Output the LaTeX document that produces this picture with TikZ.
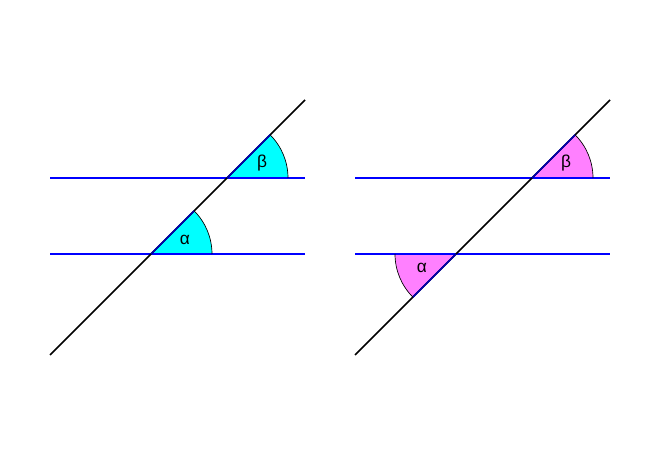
\documentclass[tikz,border=0pt]{standalone}
\usepackage{fontspec}
\setmainfont{Liberation Sans}
\usetikzlibrary{positioning}
\definecolor{angcyan}{RGB}{0,255,255}
\definecolor{angpink}{RGB}{255,128,255}
\tikzstyle{par_l} = [draw=blue, line width=1.2pt]
\tikzstyle{trans_l} = [draw=black, line width=1.2pt]
\tikzstyle{ang_arc} = [draw=black, line width=0.5pt]
\tikzstyle{ang_rad} = [draw=blue!70!black, line width=1.2pt]
\tikzstyle{ang_lbl} = [font=\fontsize{13}{15}\selectfont, inner sep=0pt]

\begin{document}
\begin{tikzpicture}[x=0.75pt,y=0.75pt]
\useasboundingbox (0,0) rectangle (660,457);
% left panel
\coordinate (l_a) at (151,203);
\coordinate (l_b) at (227,279);
\fill[angcyan] (l_a) -- ++(61,0) arc (0:45:61) -- cycle;
\fill[angcyan] (l_b) -- ++(61,0) arc (0:45:61) -- cycle;
\draw[par_l] (50,279) coordinate (l_1w) -- (305,279) coordinate (l_1e);
\draw[par_l] (50,203) coordinate (l_2w) -- (305,203) coordinate (l_2e);
\draw[trans_l] (50,102) coordinate (l_s) -- (305,357) coordinate (l_n);
\draw[ang_rad] (l_a) -- ++(45:61);
\draw[ang_rad] (l_b) -- ++(45:61);
\draw[ang_arc] (l_a) ++(61,0) arc (0:45:61);
\draw[ang_arc] (l_b) ++(61,0) arc (0:45:61);
\node[ang_lbl] (l_alpha) at (185,217) {α};
\node[ang_lbl] (l_beta) at (262,294) {β};
% right panel
\coordinate (r_a) at (456,203);
\coordinate (r_b) at (532,279);
\fill[angpink] (r_a) -- ++(-61,0) arc (180:225:61) -- cycle;
\fill[angpink] (r_b) -- ++(61,0) arc (0:45:61) -- cycle;
\draw[par_l] (355,279) coordinate (r_1w) -- (610,279) coordinate (r_1e);
\draw[par_l] (355,203) coordinate (r_2w) -- (610,203) coordinate (r_2e);
\draw[trans_l] (355,102) coordinate (r_s) -- (610,357) coordinate (r_n);
\draw[ang_rad] (r_a) -- ++(225:61);
\draw[ang_rad] (r_b) -- ++(45:61);
\draw[ang_arc] (r_a) ++(-61,0) arc (180:225:61);
\draw[ang_arc] (r_b) ++(61,0) arc (0:45:61);
\node[ang_lbl] (r_alpha) at (422,189) {α};
\node[ang_lbl] (r_beta) at (566,294) {β};
\end{tikzpicture}
\end{document}
